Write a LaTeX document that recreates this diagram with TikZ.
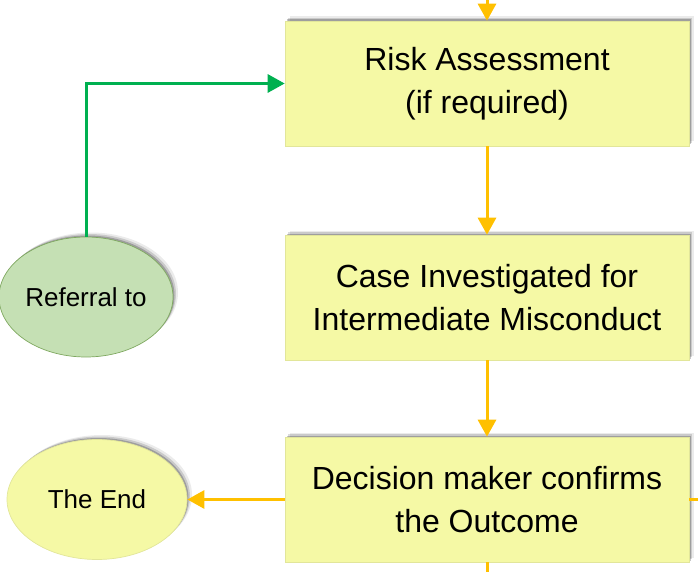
\documentclass[tikz,border=0pt]{standalone}
\usepackage{fontspec}
\setmainfont{Liberation Sans}
\usepackage{tikz}
\usetikzlibrary{arrows.meta,shapes.geometric,shadows}
\definecolor{boxfill}{HTML}{F5F9A5}
\definecolor{boxline}{HTML}{E2E69A}
\definecolor{reffill}{HTML}{C5E0B4}
\definecolor{refline}{HTML}{7FA860}
\definecolor{flow}{HTML}{FFC000}
\definecolor{refer}{HTML}{00B050}
\tikzset{
  soft/.style={drop shadow={shadow xshift=1.5pt, shadow yshift=1.5pt, opacity=0.22, fill=black},
               drop shadow={shadow xshift=3pt, shadow yshift=3pt, opacity=0.14, fill=black},
               drop shadow={shadow xshift=5pt, shadow yshift=4.5pt, opacity=0.08, fill=black}},
  stage/.style={draw=boxline, fill=boxfill, line width=0.6pt, soft,
                minimum width=404pt, minimum height=125pt, inner sep=0pt,
                align=center, font=\fontsize{32}{43}\selectfont},
  term/.style={ellipse, line width=0.7pt, soft, inner sep=0pt,
               minimum height=120pt, font=\fontsize{26}{31}\selectfont},
  flowline/.style={draw=flow, line width=3pt},
  flowarr/.style={flowline, -{Triangle[length=17pt,width=18pt]}},
  referarr/.style={draw=refer, line width=3pt, -{Triangle[length=17pt,width=18pt]}}
}
\begin{document}
\begin{tikzpicture}[x=1pt,y=-1pt]
  \useasboundingbox (0,0) rectangle (698,572);
  % main column
  \node[stage] (risk) at (487,83.5) {Risk Assessment\\(if required)};
  \node[stage] (invest) at (487,297.5) {Case Investigated for\\Intermediate Misconduct};
  \node[stage] (decide) at (487,499.5) {Decision maker confirms\\the Outcome};
  % side ellipses
  \node[term, draw=refline, fill=reffill, minimum width=174pt] (refer) at (86,297) {Referral to};
  \node[term, draw=boxline, fill=boxfill, minimum width=180pt] (theend) at (97,499.5) {The End};
  % loose ends off the page
  \coordinate (above) at (487,-12);
  \coordinate (offright) at (712,499.5);
  \coordinate (offbelow) at (487,586);
  % connectors
  \draw[flowarr] (above) -- (risk.north);
  \draw[flowarr] (risk.south) -- (invest.north);
  \draw[flowarr] (invest.south) -- (decide.north);
  \draw[flowarr] (decide.west) -- (theend.east);
  \draw[flowline] (decide.east) -- (offright);
  \draw[flowline] (decide.south) -- (offbelow);
  \draw[referarr] (refer.north) |- (risk.west);
\end{tikzpicture}
\end{document}
